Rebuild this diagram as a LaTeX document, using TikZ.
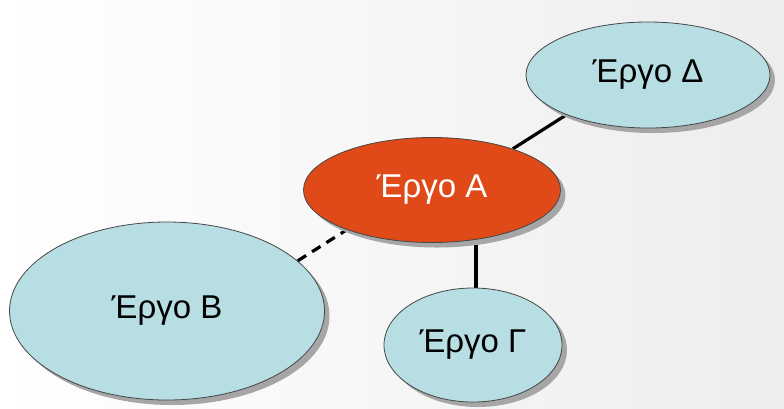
\documentclass[tikz,border=0pt]{standalone}
\usepackage{fontspec}
\setmainfont{Liberation Sans}
\usetikzlibrary{shapes.geometric, shadows, backgrounds, calc, positioning}
\definecolor{projblue}{RGB}{183,222,227}
\definecolor{projred}{RGB}{224,74,24}
\definecolor{rimgray}{RGB}{70,70,70}
\pgfdeclarelayer{links}
\pgfsetlayers{background,links,main}

\begin{document}
\begin{tikzpicture}[x=1bp,y=-1bp,align=center]
\tikzstyle{project}=[ellipse,draw=rimgray,line width=0.8bp,fill=projblue,inner sep=0pt,
  font=\fontsize{33bp}{40bp}\selectfont,
  drop shadow={shadow xshift=5bp,shadow yshift=-5bp,fill=gray!70,opacity=1}]
\tikzstyle{main}=[project,fill=projred,text=white]
\tikzstyle{link}=[-,line width=3.2bp,black]
\tikzstyle{loose}=[link,dash pattern=on 10bp off 7bp]

\useasboundingbox (0,0) rectangle (784,408);

\node[main,minimum width=257bp,minimum height=105bp] (pA) at (432,190) {Έργο Α};
\node[project,minimum width=315bp,minimum height=178bp] (pB) at (167,311) {Έργο Β};
\node[project,minimum width=178bp,minimum height=114bp] (pC) at (473,345) {Έργο Γ};
\node[project,minimum width=244bp,minimum height=106bp] (pD) at (648,75) {Έργο Δ};

\begin{pgfonlayer}{links}
\draw[link] (pA.27) -- (pD.206);
\draw[loose] (pB.21) -- (pA.205);
\draw[link] (pC.87) -- (pC.87 |- pA.south);
\end{pgfonlayer}

\begin{pgfonlayer}{background}
\shade[left color=white,right color=gray!14] (0,0) rectangle (784,408);
\end{pgfonlayer}
\end{tikzpicture}
\end{document}
